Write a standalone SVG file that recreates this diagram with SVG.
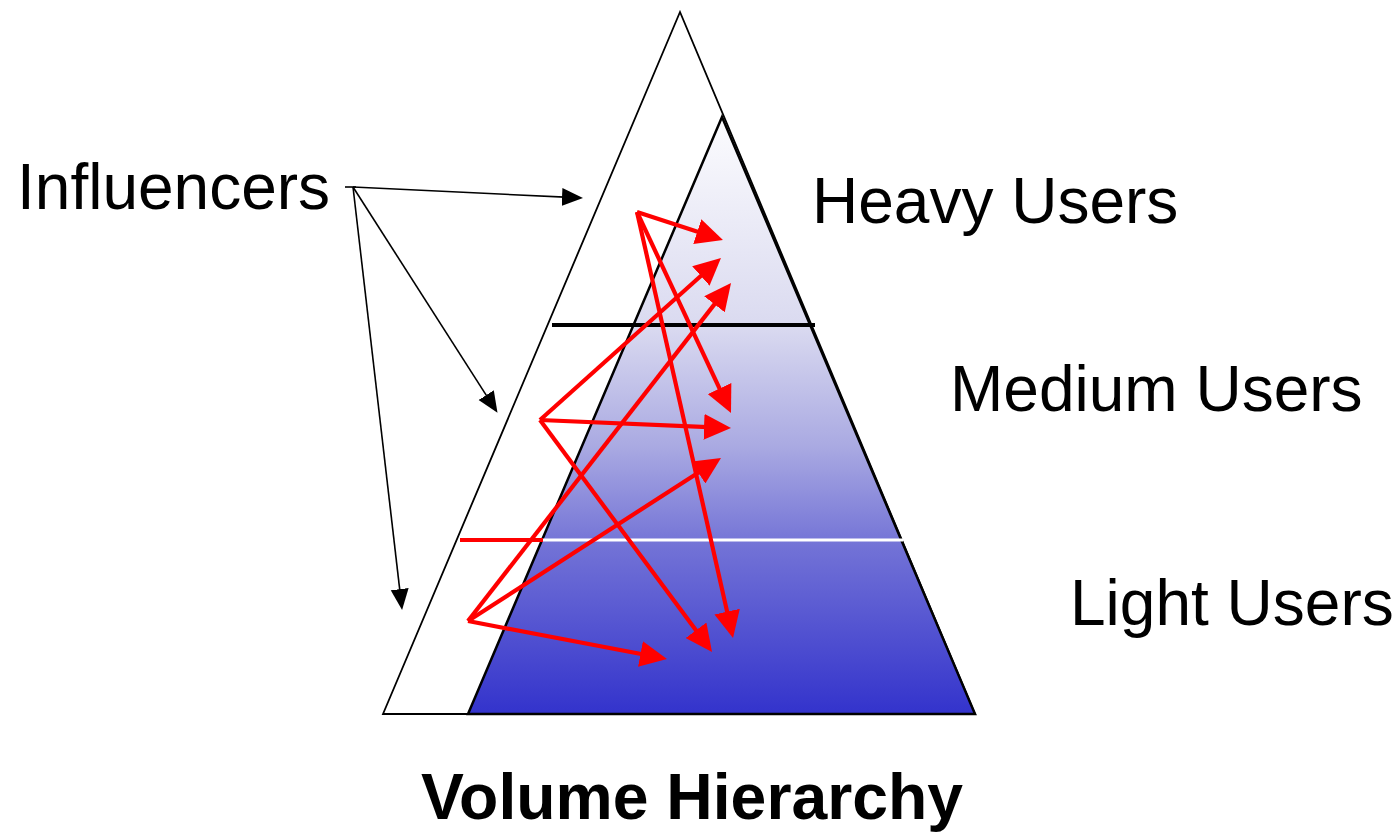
<svg xmlns="http://www.w3.org/2000/svg" width="1397" height="832" viewBox="0 0 1397 832">
<style>
.lbl{font-family:"Liberation Sans",Arial,sans-serif;font-size:64px;fill:#000}
.ttl{font-family:"Liberation Sans",Arial,sans-serif;font-size:64.3px;font-weight:bold;fill:#000}
.red{stroke:#ff0000;stroke-width:4.2;fill:none}
.blk{stroke:#000;stroke-width:1.6;fill:none}
</style>
<defs>
<linearGradient id="g" gradientUnits="userSpaceOnUse" x1="0" y1="117" x2="0" y2="714">
<stop offset="0" stop-color="#fcfcfe"/>
<stop offset="0.35" stop-color="#dadaf0"/>
<stop offset="0.55" stop-color="#aaaae2"/>
<stop offset="0.72" stop-color="#7272d6"/>
<stop offset="1" stop-color="#3333cc"/>
</linearGradient>
<marker id="ra" markerUnits="userSpaceOnUse" markerWidth="28" markerHeight="26" refX="10" refY="13" orient="auto">
<path d="M0,0 L27,13 L0,26 z" fill="#ff0000"/>
</marker>
<marker id="ba" markerUnits="userSpaceOnUse" markerWidth="22" markerHeight="19" refX="8" refY="9" orient="auto">
<path d="M0,0 L21,9 L0,18 z" fill="#000"/>
</marker>
</defs>
<rect width="1397" height="832" fill="#fff"/>
<g id="pyramid">
<polygon points="680,12 383,714 975,714" fill="#fff" stroke="#000" stroke-width="1.8"/>
<polygon points="722,117 468,714 975,714" fill="url(#g)" stroke="#000" stroke-width="2.5"/>
<line x1="552" y1="325" x2="815" y2="325" stroke="#000" stroke-width="4"/>
<line x1="542" y1="540" x2="903" y2="540" stroke="#fff" stroke-width="3"/>
<line x1="460" y1="540" x2="543" y2="540" stroke="#ff0000" stroke-width="4"/>
</g>
<g id="labels">
<text id="influencers" class="lbl" x="17" y="209">Influencers</text>
<text id="heavy" class="lbl" x="812" y="223">Heavy Users</text>
<text id="medium" class="lbl" x="950" y="411">Medium Users</text>
<text id="light" class="lbl" x="1070" y="625">Light Users</text>
<text id="title" class="ttl" x="421" y="819">Volume Hierarchy</text>
</g>
<g id="connectors">
<line class="blk" x1="345" y1="187" x2="356" y2="187"/>
<line class="blk" x1="353" y1="187" x2="570" y2="197.4" marker-end="url(#ba)"/>
<line class="blk" x1="353" y1="187" x2="490.5" y2="401.9" marker-end="url(#ba)"/>
<line class="blk" x1="353" y1="187" x2="400.6" y2="597.1" marker-end="url(#ba)"/>
<line class="red" x1="637" y1="212" x2="706.8" y2="234.7" marker-end="url(#ra)"/>
<line class="red" x1="637" y1="212" x2="723.8" y2="397.6" marker-end="url(#ra)"/>
<line class="red" x1="637" y1="212" x2="729.3" y2="621.4" marker-end="url(#ra)"/>
<line class="red" x1="540" y1="420" x2="708.3" y2="269.3" marker-end="url(#ra)"/>
<line class="red" x1="540" y1="420" x2="714" y2="427.3" marker-end="url(#ra)"/>
<line class="red" x1="540" y1="420" x2="701.9" y2="638.3" marker-end="url(#ra)"/>
<line class="red" x1="468" y1="621" x2="720.6" y2="296.4" marker-end="url(#ra)"/>
<line class="red" x1="468" y1="621" x2="706.7" y2="467.2" marker-end="url(#ra)"/>
<line class="red" x1="468" y1="621" x2="650.3" y2="655.8" marker-end="url(#ra)"/>
</g>
</svg>
